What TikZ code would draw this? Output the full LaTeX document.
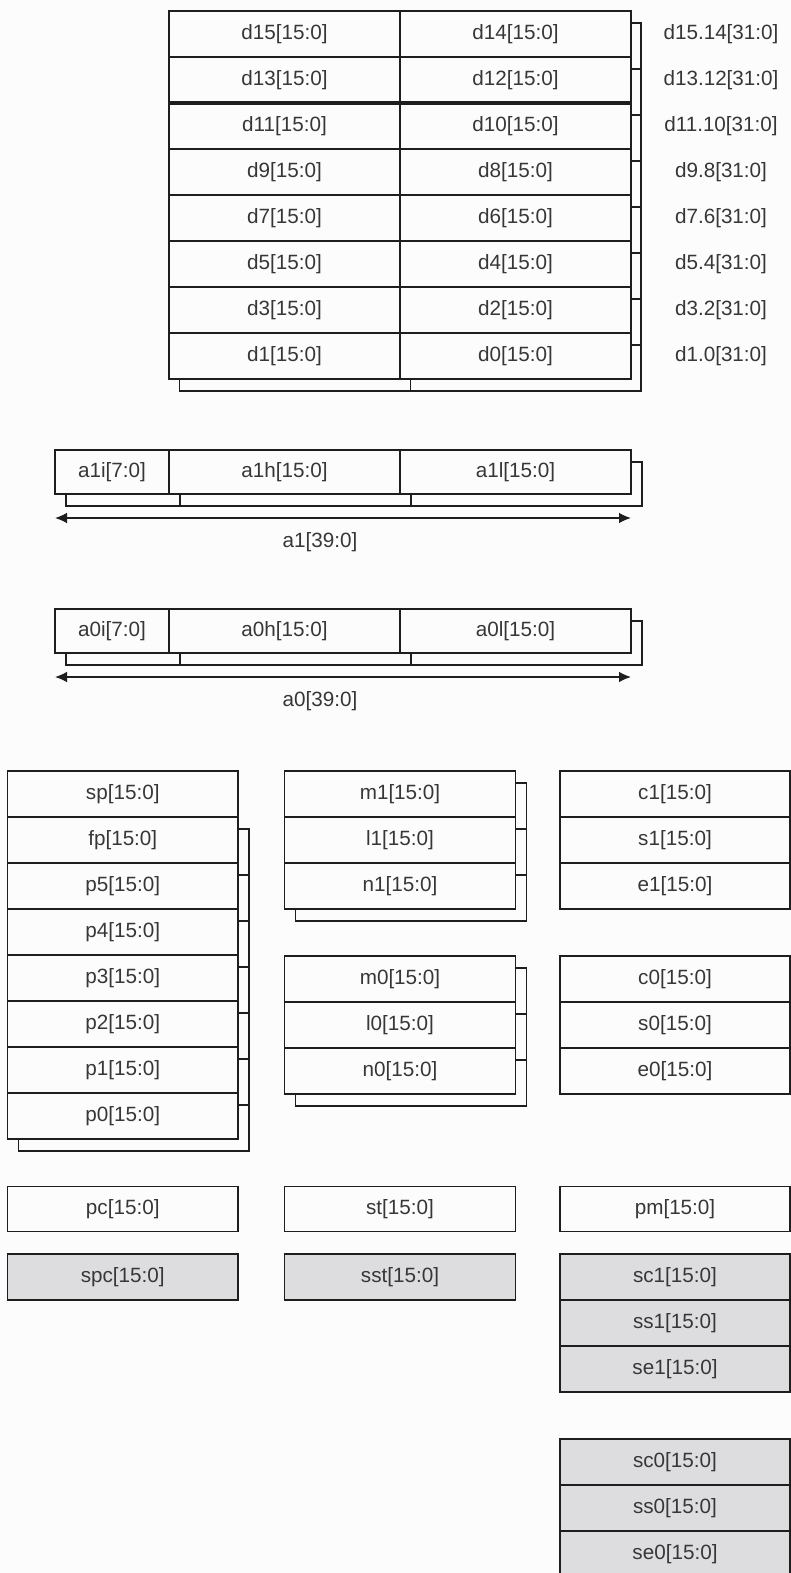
\documentclass[tikz,border=0pt]{standalone}
\usepackage{fontspec}
\setmainfont{Liberation Sans}
\usetikzlibrary{arrows.meta}

\definecolor{paper}{RGB}{252,252,252}
\definecolor{regfill}{RGB}{252,252,252}
\definecolor{sysfill}{RGB}{221,221,223}
\definecolor{ink}{RGB}{30,30,30}
\definecolor{txt}{RGB}{55,55,55}

\newcommand\regfont{\fontsize{15.5}{18}\selectfont}

% \regbox[opts]{name}{x1}{y1}{x2}{y2}{text}: a register cell spanning the given pixel box
\newcommand\regbox[7][]{%
  \node[reg,#1,minimum width={((#5)-(#3))*0.75pt},minimum height={((#6)-(#4))*0.75pt}]
    (#2) at ({((#3)+(#5))/2},{((#4)+(#6))/2}) {#7};}

\tikzset{
  reg/.style={draw=ink, fill=regfill, line width=1.1pt, inner sep=0pt, outer sep=0pt,
              rectangle, font=\regfont, text=txt},
  sysreg/.style={fill=sysfill},
  lbl/.style={inner sep=0pt, font=\regfont, text=txt},
  span/.style={draw=ink, line width=1.1pt, {Latex[length=9pt,width=8pt]}-{Latex[length=9pt,width=8pt]}},
}

\begin{document}
\begin{tikzpicture}[x=0.75pt,y=-0.75pt]
\useasboundingbox (0,0) rectangle (791,1573);
\fill[paper] (0,0) rectangle (791,1573);

% ---- data registers d0..d15, with the back layer of paired 32-bit views
\foreach \l/\r/\i in {15/14/0,13/12/1,11/10/2,9/8/3,7/6/4,5/4/5,3/2/6,1/0/7}{
  \pgfmathsetmacro\ya{11+46*\i}\pgfmathsetmacro\yb{\ya+46}
  \pgfmathsetmacro\sa{\ya+12}\pgfmathsetmacro\sb{\yb+12}
  \regbox{ds\l}{179.5}{\sa}{410.5}{\sb}{}
  \regbox{ds\r}{410.5}{\sa}{641}{\sb}{}
}
\draw[ink, line width=2pt] (ds9.north west) -- (ds8.north east);
\foreach \l/\r/\i in {15/14/0,13/12/1,11/10/2,9/8/3,7/6/4,5/4/5,3/2/6,1/0/7}{
  \pgfmathsetmacro\ya{11+46*\i}\pgfmathsetmacro\yb{\ya+46}
  \regbox{d\l}{169}{\ya}{400}{\yb}{d\l[15:0]}
  \regbox{d\r}{400}{\ya}{631}{\yb}{d\r[15:0]}
  \node[lbl] (pair\l) at (721,{(\ya+\yb)/2}) {d\l.\r[31:0]};
}
\draw[ink, line width=2.5pt] (d11.north west) -- (d10.north east);

% ---- accumulators a1 and a0 (40 bits)
\foreach \n/\y in {1/450,0/609}{
  \pgfmathsetmacro\ya{\y}\pgfmathsetmacro\yb{\y+44}
  \pgfmathsetmacro\sa{\y+12}\pgfmathsetmacro\sb{\y+56}
  \pgfmathsetmacro\ay{\y+68}\pgfmathsetmacro\ty{\y+92}
  \regbox{a\n is}{66}{\sa}{180}{\sb}{}
  \regbox{a\n hs}{180}{\sa}{411}{\sb}{}
  \regbox{a\n ls}{411}{\sa}{642}{\sb}{}
  \regbox{a\n i}{55}{\ya}{169}{\yb}{a\n i[7:0]}
  \regbox{a\n h}{169}{\ya}{400}{\yb}{a\n h[15:0]}
  \regbox{a\n l}{400}{\ya}{631}{\yb}{a\n l[15:0]}
  \coordinate (a\n L) at (55,\ay);
  \coordinate (a\n R) at (631,\ay);
  \draw[span] (a\n L) -- (a\n R);
  \node[lbl] (a\n name) at (320,\ty) {a\n[39:0]};
}

% ---- pointer registers
\foreach \n/\i in {fp/0,p5/1,p4/2,p3/3,p2/4,p1/5,p0/6}{
  \pgfmathsetmacro\ya{829+46*\i}\pgfmathsetmacro\yb{\ya+46}
  \regbox{\n s}{18.5}{\ya}{249}{\yb}{}
}
\regbox{sp}{7.5}{771}{238}{817}{sp[15:0]}
\foreach \n/\i in {fp/0,p5/1,p4/2,p3/3,p2/4,p1/5,p0/6}{
  \pgfmathsetmacro\ya{817+46*\i}\pgfmathsetmacro\yb{\ya+46}
  \regbox{\n}{7.5}{\ya}{238}{\yb}{\n[15:0]}
}

% ---- modulo registers m/l/n, banks 1 and 0
\foreach \b/\y in {1/771,0/956}{
  \foreach \n/\i in {m/0,l/1,n/2}{
    \pgfmathsetmacro\ya{\y+12+46*\i}\pgfmathsetmacro\yb{\ya+46}
    \regbox{\n\b s}{295.5}{\ya}{526.5}{\yb}{}
  }
  \foreach \n/\i in {m/0,l/1,n/2}{
    \pgfmathsetmacro\ya{\y+46*\i}\pgfmathsetmacro\yb{\ya+46}
    \regbox{\n\b}{284.5}{\ya}{515.5}{\yb}{\n\b[15:0]}
  }
}

% ---- loop registers c/s/e, banks 1 and 0
\foreach \b/\y in {1/771,0/956}{
  \foreach \n/\i in {c/0,s/1,e/2}{
    \pgfmathsetmacro\ya{\y+46*\i}\pgfmathsetmacro\yb{\ya+46}
    \regbox{\n\b}{560}{\ya}{790}{\yb}{\n\b[15:0]}
  }
}

% ---- control registers
\regbox{pc}{7.5}{1186.5}{238}{1231.5}{pc[15:0]}
\regbox{st}{284.5}{1186.5}{515.5}{1231.5}{st[15:0]}
\regbox{pm}{560}{1186.5}{790}{1231.5}{pm[15:0]}

% ---- saved copies (shaded)
\regbox[sysreg]{spc}{7.5}{1254}{238}{1300}{spc[15:0]}
\regbox[sysreg]{sst}{284.5}{1254}{515.5}{1300}{sst[15:0]}
\foreach \b/\y in {1/1254,0/1439}{
  \foreach \n/\i in {sc/0,ss/1,se/2}{
    \pgfmathsetmacro\ya{\y+46*\i}\pgfmathsetmacro\yb{\ya+46}
    \regbox[sysreg]{\n\b}{560}{\ya}{790}{\yb}{\n\b[15:0]}
  }
}
\end{tikzpicture}
\end{document}
